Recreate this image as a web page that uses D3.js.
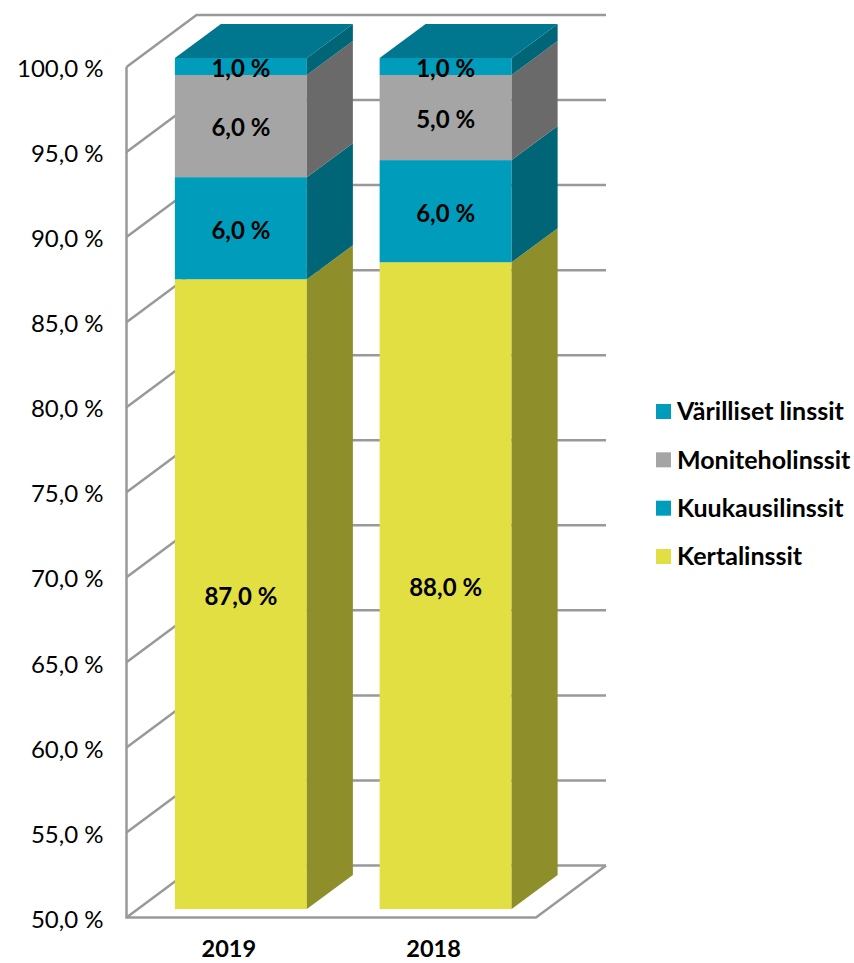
<!DOCTYPE html>
<html>
<head>
<meta charset="utf-8">
<script src="https://cdn.jsdelivr.net/npm/d3@7"></script>
<style>
  html, body { margin: 0; background: #fff; }
  text { font-family: Lato, "Open Sans", sans-serif; fill: #000; }
</style>
</head>
<body>
<svg id="chart" width="854" height="963"></svg>
<script>
const years = ["2019", "2018"];
const seriesNames = ["Kertalinssit", "Kuukausilinssit", "Moniteholinssit", "Värilliset linssit"];
const kertalinssit = [87, 88];
const kuukausilinssit = [6, 6];
const moniteholinssit = [6, 5];
const varillisetLinssit = [1, 1];
const axisTicks = [50, 55, 60, 65, 70, 75, 80, 85, 90, 95, 100];

const frontColors = ["#e1df41", "#009cbc", "#a5a5a5", "#009cbc"];
const sideColors = ["#8e8e2a", "#006576", "#6a6a6a", "#006576"];
const topColor = "#00768f";
const gridColor = "#999999";

// wall depth and bar depth of the fake 3D box
const wallDx = 70, wallDy = -52;
const barDx = 46, barDy = -34;
const barWidth = 132, barShift = 12;

const svg = d3.select("#chart");
const yAxisScale = d3.scaleLinear().domain([50, 100]).range([917.5, 67]);
const yBar = d3.scaleLinear().domain([50, 100]).range([909, 58]);
const x = d3.scaleBand().domain(years).range([126.5, 536]);

const rows = years.map((year, i) => ({
    year,
    [seriesNames[0]]: kertalinssit[i],
    [seriesNames[1]]: kuukausilinssit[i],
    [seriesNames[2]]: moniteholinssit[i],
    [seriesNames[3]]: varillisetLinssit[i]
}));
const stacked = d3.stack().keys(seriesNames)(rows);

// walls and gridlines
const x0 = x.range()[0], x1 = x.range()[1];
const grid = svg.append("g")
    .attr("fill", "none")
    .attr("stroke", gridColor)
    .attr("stroke-width", 2.5);

grid.selectAll("path.gridline")
    .data(axisTicks)
    .join("path")
    .attr("class", "gridline")
    .attr("d", d => d3.line()([
        [x0, yAxisScale(d)],
        [x0 + wallDx, yAxisScale(d) + wallDy],
        [x1 + wallDx, yAxisScale(d) + wallDy]
    ]));

grid.append("path")
    .attr("d", d3.line()([[x0, yAxisScale(100)], [x0, yAxisScale(50)], [x1, yAxisScale(50)], [x1 + wallDx, yAxisScale(50) + wallDy]]));

// bars, the axis starts at 50 so the first layer is clipped there
const barLeft = year => x(year) + (x.bandwidth() - barWidth) / 2 + barShift;
const poly = pts => d3.line()(pts) + "Z";

const bars = svg.append("g");
stacked.forEach((layer, s) => {
    const g = bars.append("g");
    const segs = layer.map((d, i) => {
        const left = barLeft(years[i]);
        return { left, right: left + barWidth, y0: yBar(Math.max(50, d[0])), y1: yBar(d[1]) };
    });

    g.selectAll("rect")
        .data(segs)
        .join("rect")
        .attr("x", d => d.left)
        .attr("y", d => d.y1)
        .attr("width", barWidth)
        .attr("height", d => d.y0 - d.y1)
        .attr("fill", frontColors[s]);

    g.selectAll("path.side")
        .data(segs)
        .join("path")
        .attr("class", "side")
        .attr("fill", sideColors[s])
        .attr("d", d => poly([
            [d.right, d.y0], [d.right + barDx, d.y0 + barDy],
            [d.right + barDx, d.y1 + barDy], [d.right, d.y1]
        ]));

    if (s === stacked.length - 1) {
        g.selectAll("path.top")
            .data(segs)
            .join("path")
            .attr("class", "top")
            .attr("fill", topColor)
            .attr("d", d => poly([
                [d.left, d.y1], [d.right, d.y1],
                [d.right + barDx, d.y1 + barDy], [d.left + barDx, d.y1 + barDy]
            ]));
    }
});

// data labels
stacked.forEach(layer => {
    svg.append("g").selectAll("text")
        .data(layer)
        .join("text")
        .attr("x", (d, i) => barLeft(years[i]) + barWidth / 2)
        .attr("y", d => (yBar(Math.max(50, d[0])) + yBar(d[1])) / 2 + 2)
        .attr("dy", "0.35em")
        .attr("text-anchor", "middle")
        .attr("font-size", 24)
        .attr("font-weight", 700)
        .text(d => (d[1] - d[0]).toFixed(1).replace(".", ",") + " %");
});

// axes
const yAxis = svg.append("g")
    .attr("transform", `translate(${x0},2)`)
    .call(d3.axisLeft(yAxisScale)
        .tickValues(axisTicks)
        .tickSize(0)
        .tickPadding(23)
        .tickFormat(d => d.toFixed(1).replace(".", ",") + " %"));
yAxis.select(".domain").remove();
yAxis.selectAll("text").attr("font-size", 24).style("font-family", "Lato, sans-serif");

const xAxis = svg.append("g")
    .attr("transform", `translate(0,${yAxisScale(50)})`)
    .call(d3.axisBottom(x).tickSize(0).tickPadding(23));
xAxis.select(".domain").remove();
xAxis.selectAll("text").attr("font-size", 23.5).attr("font-weight", 700).style("font-family", "Lato, sans-serif");

// legend
const legendOrder = d3.range(seriesNames.length).reverse();
const legendY = d3.scalePoint().domain(legendOrder).range([411.5, 556.5]);
const legend = svg.append("g").selectAll("g")
    .data(legendOrder)
    .join("g")
    .attr("transform", s => `translate(656,${legendY(s)})`);
legend.append("rect")
    .attr("y", -7.5)
    .attr("width", 15)
    .attr("height", 15)
    .attr("fill", s => frontColors[s]);
legend.append("text")
    .attr("x", 21)
    .attr("dy", "0.35em")
    .attr("font-size", 25)
    .attr("font-weight", 700)
    .text(s => seriesNames[s]);
</script>
</body>
</html>
